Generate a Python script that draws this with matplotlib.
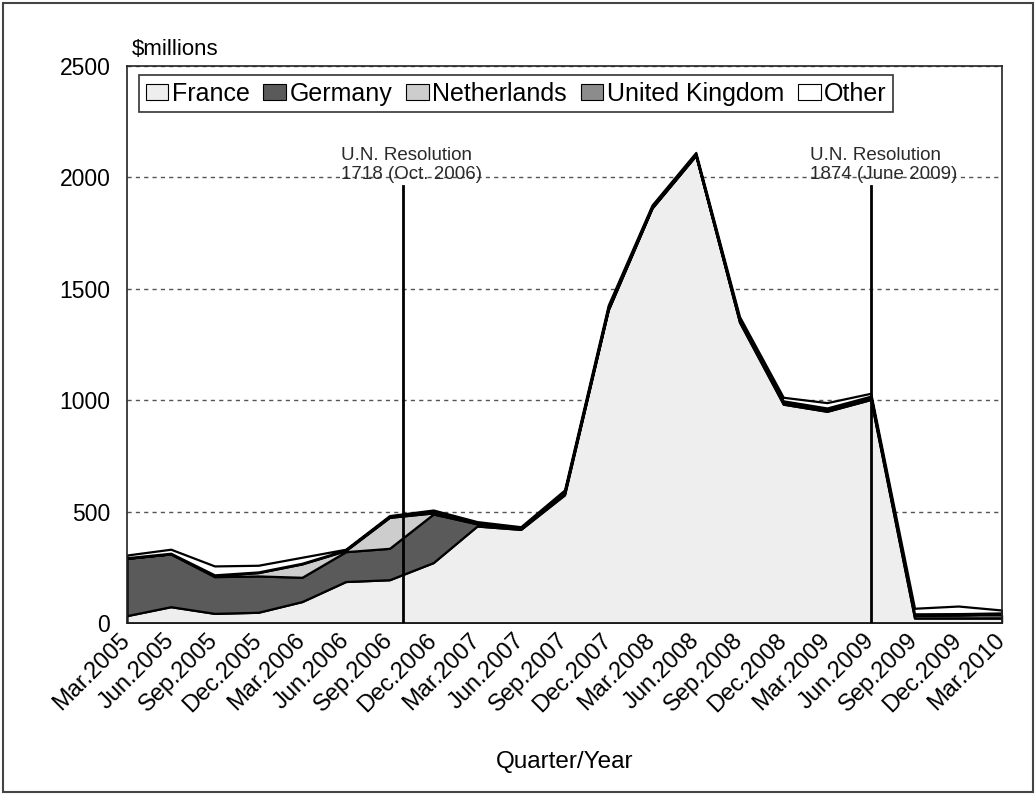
import matplotlib
matplotlib.use("Agg")
import matplotlib.pyplot as plt
from matplotlib.patches import Rectangle
import numpy as np

plt.rcParams['font.family'] = ['Liberation Sans', 'DejaVu Sans']

quarters = ['Mar.2005', 'Jun.2005', 'Sep.2005', 'Dec.2005', 'Mar.2006', 'Jun.2006',
            'Sep.2006', 'Dec.2006', 'Mar.2007', 'Jun.2007', 'Sep.2007', 'Dec.2007',
            'Mar.2008', 'Jun.2008', 'Sep.2008', 'Dec.2008', 'Mar.2009', 'Jun.2009',
            'Sep.2009', 'Dec.2009', 'Mar.2010']

france      = [33, 73, 43, 48, 96, 186, 194, 271, 435, 420, 575, 1405, 1862, 2098, 1350, 982, 950, 1003, 22, 22, 22]
germany     = [257, 237, 165, 163, 109, 134, 141, 218, 10, 3, 8, 5, 3, 3, 8, 10, 10, 10, 14, 15, 18]
netherlands = [0, 0, 5, 15, 60, 5, 139, 5, 2, 0, 0, 0, 0, 0, 0, 0, 0, 0, 0, 0, 0]
uk          = [3, 3, 3, 3, 3, 3, 3, 3, 3, 3, 4, 5, 3, 3, 5, 5, 5, 5, 5, 5, 5]
other       = [12, 18, 40, 30, 27, 3, 5, 10, 5, 6, 10, 12, 8, 8, 12, 16, 24, 13, 25, 34, 13]

series_names = ['France', 'Germany', 'Netherlands', 'United Kingdom', 'Other']
colors = ['#eeeeee', '#5a5a5a', '#cdcdcd', '#8c8c8c', '#ffffff']

# (position on the quarter axis, label)
resolutions = [(6.3, 'U.N. Resolution\n1718 (Oct. 2006)'),
               (17.0, 'U.N. Resolution\n1874 (June 2009)')]

fig = plt.figure(figsize=(10.36, 7.95), dpi=100)
ax = fig.add_axes([0.1226, 0.2164, 0.8446, 0.7006])

x = np.arange(len(quarters))
ax.stackplot(x, france, germany, netherlands, uk, other, labels=series_names,
             colors=colors, edgecolor='black', linewidth=1.6, zorder=2)

for xpos, label in resolutions:
    ax.plot([xpos, xpos], [0, 1960], color='black', linewidth=2, zorder=3)
    ax.text(xpos - 1.4, 1975, label, ha='left', va='bottom', fontsize=13.5,
            linespacing=1.15, color='#2a2a2a', zorder=4)

ax.set_xlim(0, len(quarters) - 1)
ax.set_ylim(0, 2500)
ax.set_yticks([0, 500, 1000, 1500, 2000, 2500])
ax.set_xticks(x)
ax.set_xticklabels(quarters, rotation=45, ha='right', va='center',
                   rotation_mode='anchor', fontsize=17)
ax.tick_params(axis='x', direction='in', length=6, width=1, pad=10)
ax.tick_params(axis='y', length=0, labelsize=16.5, pad=12)
ax.grid(axis='y', linestyle=(0, (3, 3)), color='#555555', linewidth=1, zorder=0)
ax.set_axisbelow(True)
for sp in ax.spines.values():
    sp.set_linewidth(1.2)
    sp.set_color('#222222')

ax.set_xlabel('Quarter/Year', fontsize=17.5, va='center')
ax.xaxis.set_label_coords(0.5, -0.25)
ax.text(0.005, 1.01, '$millions', transform=ax.transAxes, fontsize=16,
        ha='left', va='bottom')

leg = ax.legend(loc='upper left', bbox_to_anchor=(0.014, 0.983), ncol=5, fontsize=18,
                frameon=True, fancybox=False, edgecolor='black', handlelength=0.9,
                handleheight=0.6, handletextpad=0.15, columnspacing=0.55,
                borderpad=0.25, borderaxespad=0)
leg.get_frame().set_linewidth(1.2)
for h in leg.legend_handles:
    h.set_linewidth(0.8)

fig.patches.append(Rectangle((0.003, 0.004), 0.994, 0.992, transform=fig.transFigure,
                             fill=False, edgecolor='#444444', linewidth=1.5))

fig.savefig('out.png', dpi=100)
